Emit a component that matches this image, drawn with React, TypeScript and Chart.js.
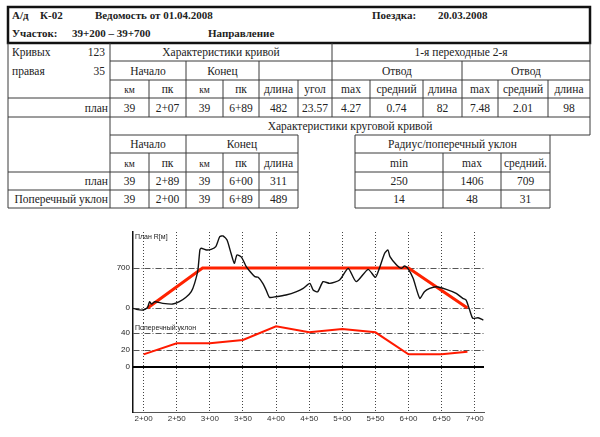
import React, { useEffect, useRef } from "react";
import { Chart, registerables } from "chart.js";
Chart.register(...registerables);

// ---------- DATA ----------
const pkTicks = [200, 250, 300, 350, 400, 450, 500, 550, 600, 650, 700];
const planPk = [206, 289, 600, 689];
const planR = [0, 700, 700, 0];
const actualPk = [179, 189, 199, 206, 209, 212, 217, 229, 244, 254, 264, 272, 277, 282, 285, 287, 295, 302, 309, 315, 320, 326, 332, 337, 341, 348, 355, 363, 368, 373, 380, 385, 390, 400, 415, 431, 441, 451, 456, 463, 471, 481, 496, 509, 521, 539, 550, 556, 564, 569, 572, 582, 589, 594, 599, 607, 617, 624, 632, 642, 657, 672, 682, 687, 692, 697, 705, 713];
const actualR = [12, -23, -35, 12, 110, 70, 110, 82, 70, 110, 187, 286, 432, 665, 1015, 1045, 1015, 1027, 1073, 1248, 1260, 1190, 957, 782, 927, 887, 723, 607, 548, 537, 432, 315, 187, 198, 227, 286, 344, 432, 315, 286, 461, 432, 490, 694, 461, 677, 537, 694, 957, 1015, 898, 752, 694, 735, 694, 519, 169, 286, 344, 373, 327, 257, 169, 140, -23, -180, -170, -210];
const slopePk = [200, 250, 300, 350, 400, 450, 500, 550, 600, 650, 689];
const slopeVal = [15, 28, 28, 32, 48, 41, 45, 41, 15, 15, 18];
const planTicks = [0, 700];
const slopeTicks = [0, 20, 40];

const curveHead = ["км", "пк", "км", "пк", "длина", "угол", "max", "средний", "длина", "max", "средний", "длина"];
const curvePlan = ["39", "2+07", "39", "6+89", "482", "23.57", "4.27", "0.74", "82", "7.48", "2.01", "98"];
const circHead = ["км", "пк", "км", "пк", "длина"];
const circPlan = ["39", "2+89", "39", "6+00", "311"];
const circSlope = ["39", "2+00", "39", "6+89", "489"];
const radHead = ["min", "max", "средний."];
const radPlan = ["250", "1406", "709"];
const radSlope = ["14", "48", "31"];

const fmtPk = (v: number) => `${Math.floor(v / 100)}+${String(v % 100).padStart(2, "0")}`;
const pts = (xs: number[], ys: number[]) => xs.map((x, i) => ({ x, y: ys[i] }));

// ---------- LAYOUT ----------
const colX = [8, 110, 149, 186, 223, 259, 298, 332, 370, 423, 462, 498, 548, 590];
const rowY = [43, 61, 80, 98, 117, 135, 153, 172, 190, 208];
const lowX = [110, 149, 186, 223, 259, 298];
const radX = [355, 443, 501, 550];

const ink = "#222";
const serif = "'Liberation Serif', 'Times New Roman', 'DejaVu Serif', serif";

function Table() {
  const R = rowY;
  const lines: any[] = [];
  let k = 0;
  const L = (x1: number, y1: number, x2: number, y2: number, w = 1) =>
    lines.push(<line key={k++} x1={x1} y1={y1} x2={x2} y2={y2} stroke="#3a3a3a" strokeWidth={w} />);
  // verticals
  L(8, R[0], 8, R[9]); L(110, R[0], 110, R[9]); L(332, R[0], 332, R[4]); L(590, R[0], 590, R[5]);
  [186, 259, 462].forEach((x) => L(x, R[1], x, R[4]));
  [149, 223, 298, 370, 423, 498, 548].forEach((x) => L(x, R[2], x, R[4]));
  [186, 298].forEach((x) => L(x, R[5], x, R[9]));
  [149, 223, 259].forEach((x) => L(x, R[6], x, R[9]));
  [radX[0], radX[3]].forEach((x) => L(x, R[5], x, R[9]));
  [radX[1], radX[2]].forEach((x) => L(x, R[6], x, R[9]));
  // horizontals
  L(110, R[1], 590, R[1]); L(110, R[2], 590, R[2]); L(8, R[3], 590, R[3]); L(8, R[4], 590, R[4]);
  L(110, R[5], 298, R[5]); L(radX[0], R[5], 590, R[5]);
  L(110, R[6], 298, R[6]); L(radX[0], R[6], radX[3], R[6]);
  [R[7], R[8], R[9]].forEach((y) => { L(8, y, 298, y); L(radX[0], y, radX[3], y); });

  const texts: any[] = [];
  const T = (s: string, x: number, y: number, anchor = "middle", size = 11.5, bold = false) =>
    texts.push(
      <text key={k++} x={x} y={y} textAnchor={anchor} fill={ink} fontFamily={serif}
        style={{ fontFamily: serif, fontSize: size, fontWeight: bold ? 700 : 400 }}>
        {s}
      </text>
    );
  const mid = (r: number) => (R[r] + R[r + 1]) / 2 + 4;
  // header
  const hs = 11;
  T("А/д", 12, 19, "start", hs, true); T("К-02", 40, 19, "start", hs, true);
  T("Ведомость от  01.04.2008", 95, 19, "start", hs, true);
  T("Поездка:", 372, 19, "start", hs, true); T("20.03.2008", 438, 19, "start", hs, true);
  T("Участок:", 12, 37, "start", hs, true); T("39+200 – 39+700", 72, 37, "start", hs, true);
  T("Направление", 208, 37, "start", hs, true);
  // upper table
  T("Кривых", 12, mid(0), "start"); T("123", 105, mid(0), "end");
  T("правая", 12, mid(1), "start"); T("35", 105, mid(1), "end");
  T("Характеристики кривой", (110 + 332) / 2, mid(0));
  T("1-я переходные 2-я", (332 + 590) / 2, mid(0));
  T("Начало", (110 + 186) / 2, mid(1)); T("Конец", (186 + 259) / 2, mid(1));
  T("Отвод", (332 + 462) / 2, mid(1)); T("Отвод", (462 + 590) / 2, mid(1));
  curveHead.forEach((s, i) => T(s, (colX[i + 1] + colX[i + 2]) / 2, mid(2), "middle", s === "км" ? 9.5 : 11.5));
  T("план", 108, mid(3), "end");
  curvePlan.forEach((s, i) => T(s, (colX[i + 1] + colX[i + 2]) / 2, mid(3)));
  // lower table
  T("Характеристики круговой кривой", 350, mid(4));
  T("Начало", (110 + 186) / 2, mid(5)); T("Конец", (186 + 298) / 2, mid(5));
  T("Радиус/поперечный уклон", (radX[0] + radX[3]) / 2, mid(5));
  circHead.forEach((s, i) => T(s, (lowX[i] + lowX[i + 1]) / 2, mid(6), "middle", s === "км" ? 9.5 : 11.5));
  T("план", 108, mid(7), "end");
  circPlan.forEach((s, i) => T(s, (lowX[i] + lowX[i + 1]) / 2, mid(7)));
  T("Поперечный уклон", 108, mid(8), "end");
  circSlope.forEach((s, i) => T(s, (lowX[i] + lowX[i + 1]) / 2, mid(8)));
  radHead.forEach((s, i) => T(s, (radX[i] + radX[i + 1]) / 2, mid(6)));
  radPlan.forEach((s, i) => T(s, (radX[i] + radX[i + 1]) / 2, mid(7)));
  radSlope.forEach((s, i) => T(s, (radX[i] + radX[i + 1]) / 2, mid(8)));

  return (
    <svg width={600} height={215} style={{ position: "absolute", left: 0, top: 0, fontFamily: serif }}>
      <rect x={8} y={7} width={582} height={36} fill="none" stroke="#111" strokeWidth={2.5} />
      {lines}
      {texts}
    </svg>
  );
}

const panelTitle = {
  id: "panelTitle",
  afterDraw(chart: any, _a: any, opts: any) {
    const { ctx, chartArea } = chart;
    ctx.save();
    ctx.font = "7px Arial, 'Liberation Sans', sans-serif";
    ctx.fillStyle = "#222";
    ctx.textBaseline = "top";
    ctx.fillText(opts.text, chartArea.left + 2, chartArea.top + 2);
    ctx.restore();
  },
};

const tickFont = { family: "Arial, 'Liberation Sans', sans-serif", size: 8 };

function xScale(showLabels: boolean) {
  return {
    type: "linear",
    min: 184,
    max: 714,
    afterBuildTicks: (s: any) => { s.ticks = pkTicks.map((v) => ({ value: v })); },
    afterFit: (s: any) => { s.height = showLabels ? 16 : 0; s.paddingLeft = 0; s.paddingRight = 0; },
    ticks: { display: showLabels, color: "#333", font: tickFont, padding: 2, maxRotation: 0, autoSkip: false, callback: (v: any) => fmtPk(Number(v)) },
    grid: { color: "#444", lineWidth: 1, drawTicks: false },
    border: { display: true, color: showLabels ? "#555" : "#888", width: 1, dash: [1, 2] },
  };
}

function yScale(min: number, max: number, ticks: number[]) {
  return {
    min,
    max,
    afterBuildTicks: (s: any) => { s.ticks = ticks.map((v) => ({ value: v })); },
    afterFit: (s: any) => { s.width = 33; s.paddingTop = 0; s.paddingBottom = 0; },
    ticks: { color: "#222", font: tickFont, padding: 3 },
    grid: { color: "#555", lineWidth: 1, drawTicks: false },
    border: { display: true, color: "#111", width: 1.5, dash: [6, 2, 1, 2] },
  };
}

export default function App() {
  const topRef = useRef<HTMLCanvasElement>(null);
  const botRef = useRef<HTMLCanvasElement>(null);

  useEffect(() => {
    const top = new Chart(topRef.current!, {
      type: "line",
      data: {
        datasets: [
          { data: pts(actualPk, actualR), borderColor: "#111", borderWidth: 1.4, pointRadius: 0, tension: 0.2 },
          { data: pts(planPk, planR), borderColor: "#ff2200", borderWidth: 3, pointRadius: 0 },
        ],
      },
      options: {
        animation: false,
        responsive: false,
        maintainAspectRatio: false,
        layout: { padding: { top: 4, right: 6, bottom: 0, left: 0 } },
        plugins: { legend: { display: false }, tooltip: { enabled: false }, panelTitle: { text: "План R[м]" } } as any,
        scales: { x: xScale(false), y: yScale(-262, 1330, planTicks) } as any,
      },
      plugins: [panelTitle],
    });
    const bot = new Chart(botRef.current!, {
      type: "line",
      data: {
        datasets: [
          { data: pts(slopePk, slopeVal), borderColor: "#ff1a00", borderWidth: 2, pointRadius: 0 },
          { data: pts([184, 714], [0, 0]), borderColor: "#000", borderWidth: 2, pointRadius: 0 },
        ],
      },
      options: {
        animation: false,
        responsive: false,
        maintainAspectRatio: false,
        layout: { padding: { top: 0, right: 6, bottom: 0, left: 0 } },
        plugins: { legend: { display: false }, tooltip: { enabled: false }, panelTitle: { text: "Поперечный уклон" } } as any,
        scales: { x: xScale(true), y: yScale(-53, 52, slopeTicks) } as any,
      },
      plugins: [panelTitle],
    });
    return () => { top.destroy(); bot.destroy(); };
  }, []);

  return (
    <div style={{ position: "absolute", left: 0, top: 0, width: 600, height: 437, background: "#fff", overflow: "hidden" }}>
      <Table />
      <canvas ref={topRef} width={390} height={95} style={{ position: "absolute", left: 100, top: 228, width: 390, height: 95 }} />
      <canvas ref={botRef} width={390} height={105} style={{ position: "absolute", left: 100, top: 323, width: 390, height: 105 }} />
    </div>
  );
}
